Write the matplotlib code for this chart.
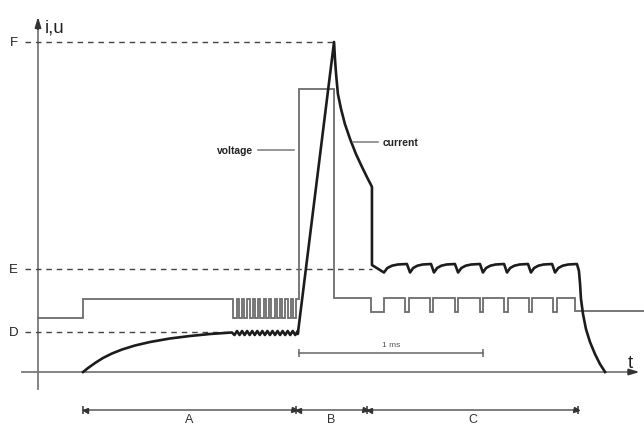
import numpy as np
import matplotlib
matplotlib.use("Agg")
import matplotlib.pyplot as plt

plt.rcParams['font.family'] = ['Liberation Sans', 'DejaVu Sans']

# ---- reference levels (arbitrary units) ----
level_names = ['F', 'E', 'D']
level_values = [33.0, 10.3, 4.0]
level_dash_end = [1.609, 1.815, 1.054]   # ms

# ---- voltage (ms, a.u.) ----
v_idle, v_open, v_pulse, v_arc, v_dip, v_end = 5.4, 7.3, 28.3, 7.4, 6.0, 6.1
t_v_step = 0.245
t_osc_start, t_osc_end, n_osc = 1.054, 1.408, 12
t_pulse_on, t_pulse_off = 1.418, 1.609
t_dip_start = [1.810, 1.995, 2.130, 2.266, 2.402, 2.533, 2.668, 2.799]
t_dip_end = [1.880, 2.014, 2.149, 2.285, 2.421, 2.552, 2.687, 2.818]
t_v_drop = 2.918
t_right = 3.30

# ---- current (ms, a.u.) ----
charge_t = [0.245, 0.272, 0.310, 0.353, 0.402, 0.457, 0.527, 0.609, 0.717,
            0.826, 0.935, 1.054]
charge_a = [0.0, 0.4, 0.9, 1.4, 1.85, 2.25, 2.65, 3.0, 3.35, 3.6, 3.8, 3.95]
ripple_hi, ripple_lo, n_ripple = 4.1, 3.7, 13
rise_t = [1.412, 1.609]
rise_a = [3.8, 33.0]
decay_t = [1.609, 1.614, 1.620, 1.630, 1.647, 1.668, 1.696, 1.728, 1.761,
           1.793, 1.810, 1.815]
decay_a = [33.0, 31.3, 29.8, 27.8, 26.3, 24.8, 23.3, 21.8, 20.5, 19.3, 18.7, 18.5]
drop_t = [1.815, 1.880]
drop_a = [10.7, 9.95]
tooth_bottom_t = [1.880, 2.022, 2.152, 2.283, 2.418, 2.549, 2.679, 2.810]
tooth_top_t = [2.005, 2.136, 2.266, 2.402, 2.533, 2.663, 2.794, 2.929]
tooth_low, tooth_high = 9.95, 10.8
tooth_frac = [0.0, 0.15, 0.35, 0.6, 1.0]
tooth_rise = [0.0, 0.45, 0.68, 0.8, 0.85]
fall_t = [2.929, 2.940, 2.946, 2.951, 2.962, 2.978, 3.000, 3.027, 3.054, 3.082]
fall_a = [10.8, 10.1, 8.8, 7.3, 5.8, 4.3, 3.0, 1.8, 0.8, 0.0]

# ---- annotations ----
phase_edges = [0.245, 1.402, 1.788, 2.935]
phase_names = ['A', 'B', 'C']
phase_level = -3.8
scale_bar = (1.418, 2.418)
scale_level = 1.9

fig = plt.figure(figsize=(6.44, 4.27), dpi=100)
ax = fig.add_axes([0, 0, 1, 1])
ax.set_xlim(-0.2065, 3.2935)
ax.set_ylim(-5.4, 37.3)
ax.axis('off')

axis_col = '#7a7a7a'
volt_col = '#6c6c6c'
cur_col = '#1c1c1c'

# axes with arrowheads
ax.plot([0, 0], [-1.7, 35.0], color=axis_col, lw=1.3)
ax.annotate('', xy=(0, 35.8), xytext=(0, 34.0),
            arrowprops=dict(arrowstyle='-|>,head_length=0.6,head_width=0.18',
                            color='#333333', lw=1.3))
ax.plot([-0.087, 3.25], [0, 0], color=axis_col, lw=1.3)
ax.annotate('', xy=(3.285, 0), xytext=(3.20, 0),
            arrowprops=dict(arrowstyle='-|>,head_length=0.6,head_width=0.18',
                            color='#333333', lw=1.3))
ax.text(0.038, 34.0, 'i,u', fontsize=13.5, ha='left', va='baseline', color='#222222')
ax.text(3.205, 0.5, 't', fontsize=13.5, ha='left', va='baseline', color='#222222')

# reference levels
for name, val, tend in zip(level_names, level_values, level_dash_end):
    ax.plot([-0.071, tend], [val, val], color='#444444', lw=1.0,
            dashes=(4, 3.5))
    ax.text(-0.133, val, name, fontsize=9.5, ha='center', va='center', color='#222222')

# voltage trace
vt = [0.0, t_v_step, t_v_step, t_osc_start]
va = [v_idle, v_idle, v_open, v_open]
period = (t_osc_end - t_osc_start) / n_osc
for k in range(n_osc):
    t0 = t_osc_start + k * period
    vt += [t0 + 0.25 * period, t0 + 0.25 * period, t0 + 0.85 * period, t0 + 0.85 * period]
    va += [v_open, v_idle, v_idle, v_open]
vt += [t_pulse_on, t_pulse_on, t_pulse_off, t_pulse_off]
va += [v_open, v_pulse, v_pulse, v_arc]
for s, e in zip(t_dip_start, t_dip_end):
    vt += [s, s, e, e]
    va += [v_arc, v_dip, v_dip, v_arc]
vt += [t_v_drop, t_v_drop, t_right]
va += [v_arc, v_end, v_end]
ax.plot(vt, va, color=volt_col, lw=1.3, solid_joinstyle='miter')

# current trace
ct = list(charge_t)
ca = list(charge_a)
rstep = (rise_t[0] - charge_t[-1]) / n_ripple
for k in range(1, n_ripple + 1):
    ct.append(charge_t[-1] + (k - 0.5) * rstep)
    ca.append(ripple_lo)
    ct.append(charge_t[-1] + k * rstep)
    ca.append(ripple_hi)
ct += rise_t + decay_t[1:] + drop_t
ca += rise_a + decay_a[1:] + drop_a
for tb, tt in zip(tooth_bottom_t, tooth_top_t):
    for f, r in zip(tooth_frac, tooth_rise):
        ct.append(tb + f * (tt - tb))
        ca.append(tooth_low + r)
ct += fall_t[1:]
ca += fall_a[1:]
ax.plot(ct, ca, color=cur_col, lw=1.9, solid_joinstyle='round')

# trace labels
ax.text(1.170, 22.2, 'voltage', fontsize=7.4, fontweight='bold', ha='right',
        va='center', color='#222222')
ax.plot([1.196, 1.391], [22.2, 22.2], color='#7a7a7a', lw=1.1)
ax.text(1.872, 23.0, 'current', fontsize=7.4, fontweight='bold', ha='left',
        va='center', color='#222222')
ax.plot([1.712, 1.848], [23.0, 23.0], color='#7a7a7a', lw=1.1)

# 1 ms scale bar
ax.plot(list(scale_bar), [scale_level, scale_level], color='#666666', lw=1.1)
ax.plot(list(scale_bar), [scale_level, scale_level], ls='none', marker='|',
        markersize=6, markeredgewidth=1.1, color='#666666')
ax.text(sum(scale_bar) / 2, scale_level + 0.8, '1 ms', fontsize=6,
        ha='center', va='center', color='#555555')

# phase dimension arrows
ax.plot([phase_edges[0], phase_edges[-1]], [phase_level] * 2, color='#666666', lw=1.2)
ax.plot(phase_edges, [phase_level] * len(phase_edges), ls='none', marker='|',
        markersize=6, markeredgewidth=1.2, color='#444444')
off = 0.010
ax.plot([e + off for e in phase_edges[:-1]], [phase_level] * (len(phase_edges) - 1),
        ls='none', marker='<', markersize=3.6, color='#333333')
ax.plot([e - off for e in phase_edges[1:]], [phase_level] * (len(phase_edges) - 1),
        ls='none', marker='>', markersize=3.6, color='#333333')
for name, a, b in zip(phase_names, phase_edges[:-1], phase_edges[1:]):
    ax.text((a + b) / 2, -5.33, name, fontsize=9, ha='center', va='bottom',
            color='#333333')

fig.savefig('out.png', dpi=100)
